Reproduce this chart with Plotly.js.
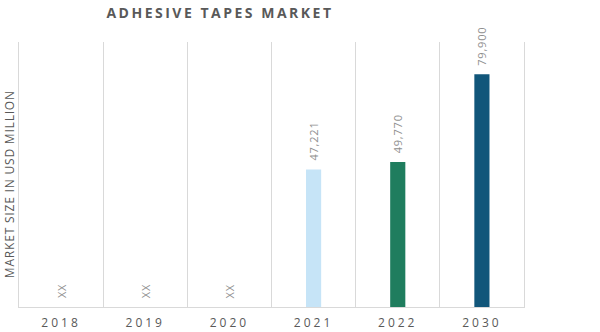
<!DOCTYPE html>
<html>
<head>
<meta charset="utf-8">
<script src="https://cdn.plot.ly/plotly-3.0.1.min.js"></script>
<style>
  html, body { margin: 0; padding: 0; background: #fff; }
  #chart { width: 600px; height: 332px; }
  .gtitle { letter-spacing: 2.5px; }
  .xtick text { letter-spacing: 3px; }
  .annotation-text { letter-spacing: 0.8px; }
</style>
</head>
<body>
<div id="chart"></div>
<script>
const years = ['2018', '2019', '2020', '2021', '2022', '2030'];
const marketSize = [0, 0, 0, 47221, 49770, 79900];
const labels = ['XX', 'XX', 'XX', '47,221', '49,770', '79,900'];
const barColors = ['#c6e4f7', '#c6e4f7', '#c6e4f7', '#c6e4f7', '#1f7d5e', '#11567a'];
const yTitle = 'MARKET SIZE IN USD MILLION';

const trace = {
  type: 'bar',
  x: years,
  y: marketSize,
  marker: { color: barColors },
  width: 0.18,
  hoverinfo: 'skip'
};

// category axis: annotation x given as the category index
const valueLabels = years.map((yr, i) => ({
  x: i,
  y: marketSize[i],
  xref: 'x', yref: 'y',
  text: labels[i],
  textangle: -90,
  xanchor: 'center',
  yanchor: 'bottom',
  yshift: 7,
  showarrow: false,
  font: { family: 'Open Sans, sans-serif', size: 11, color: '#8f8f8f' }
}));

const layout = {
  width: 600,
  height: 332,
  margin: { l: 19, r: 76, t: 42, b: 25 },
  paper_bgcolor: '#ffffff',
  plot_bgcolor: '#ffffff',
  showlegend: false,
  font: { family: 'Open Sans, sans-serif', color: '#595959' },
  title: {
    text: '<b>ADHESIVE TAPES MARKET</b>',
    font: { family: 'Open Sans, sans-serif', size: 14, color: '#595959' },
    x: 0.398, xanchor: 'center', xref: 'paper',
    y: 0.962, yanchor: 'middle'
  },
  xaxis: {
    type: 'category',
    categoryorder: 'array',
    categoryarray: years,
    range: [-0.5, years.length - 0.5],
    tickson: 'boundaries',
    showgrid: true,
    gridcolor: '#d9d9d9',
    gridwidth: 1,
    showline: true,
    linecolor: '#d9d9d9',
    ticks: '',
    ticklabelstandoff: 5,
    tickfont: { family: 'Open Sans, sans-serif', size: 12, color: '#595959' },
    fixedrange: true
  },
  yaxis: {
    range: [0, 91000],
    showgrid: false,
    zeroline: false,
    showticklabels: false,
    showline: true,
    mirror: true,
    linecolor: '#d9d9d9',
    ticks: '',
    fixedrange: true
  },
  annotations: valueLabels.concat([{
    text: yTitle,
    xref: 'paper', yref: 'paper',
    x: -10 / 505, y: 0.4636,
    xanchor: 'center', yanchor: 'middle',
    textangle: -90,
    showarrow: false,
    font: { family: 'Open Sans, sans-serif', size: 12, color: '#595959' }
  }]),
  bargap: 0.8
};

Plotly.newPlot('chart', [trace], layout, { displayModeBar: false, staticPlot: true });
</script>
</body>
</html>
